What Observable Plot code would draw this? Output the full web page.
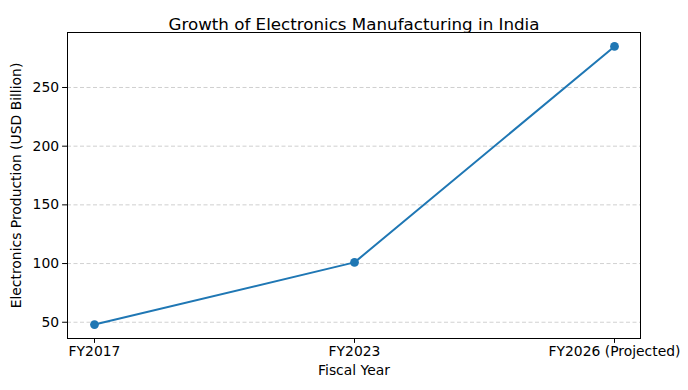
<!DOCTYPE html>
<html>
<head>
<meta charset="utf-8">
<script src="https://cdn.jsdelivr.net/npm/d3@7"></script>
<script src="https://cdn.jsdelivr.net/npm/@observablehq/plot@0.6"></script>
<style>
  body { margin: 0; background: #fff; }
  svg { font-family: "DejaVu Sans", sans-serif; }
</style>
</head>
<body>
<div id="chart"></div>
<script>
const years = ["FY2017", "FY2023", "FY2026 (Projected)"];
const production = [48, 101, 285];
const yTicks = [50, 100, 150, 200, 250];

const data = years.map((y, i) => ({year: y, value: production[i]}));
const lo = d3.min(production), hi = d3.max(production);
const pad = (hi - lo) * 0.05;

const chart = Plot.plot({
  width: 688,
  height: 390,
  marginLeft: 67,
  marginRight: 48,
  marginTop: 32,
  marginBottom: 52,
  style: {fontFamily: "DejaVu Sans, sans-serif", fontSize: "13.9px", color: "#000", background: "#fff", overflow: "visible"},
  x: {type: "point", domain: years, padding: 0.1, label: null},
  y: {domain: [lo - pad, hi + pad], label: null},
  marks: [
    Plot.ruleY(yTicks, {stroke: "#b0b0b0", strokeOpacity: 0.6, strokeDasharray: "4,2.5", strokeWidth: 1}),
    Plot.frame({stroke: "#000", strokeWidth: 1}),
    Plot.axisX({tickSize: 4.9, tickPadding: 3, fontSize: 13.9, label: null}),
    Plot.axisY({ticks: yTicks, tickSize: 4.9, tickPadding: 3.5, fontSize: 13.9, label: null}),
    Plot.line(data, {x: "year", y: "value", stroke: "#1f77b4", strokeWidth: 2}),
    Plot.dot(data, {x: "year", y: "value", fill: "#1f77b4", r: 4.4}),
    Plot.text(["Growth of Electronics Manufacturing in India"], {frameAnchor: "top", dy: -14, fontSize: 16.7, fill: "#000"}),
    Plot.text(["Fiscal Year"], {frameAnchor: "bottom", dy: 36, fontSize: 13.9, fill: "#000"}),
    Plot.text(["Electronics Production (USD Billion)"], {frameAnchor: "left", dx: -51, rotate: -90, textAnchor: "middle", fontSize: 13.9, fill: "#000"})
  ]
});
document.getElementById("chart").appendChild(chart);
</script>
</body>
</html>
